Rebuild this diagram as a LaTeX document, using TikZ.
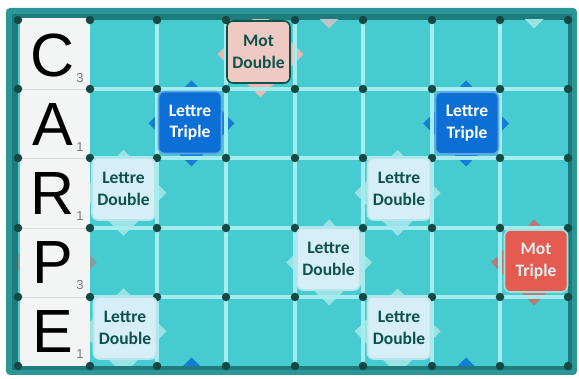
\documentclass[tikz,border=0pt]{standalone}
\usepackage{fontspec}
\setmainfont{Carlito}
\newfontfamily\tilefont{Liberation Sans}
\definecolor{boardedge}{HTML}{2C9596}
\definecolor{boarddark}{HTML}{1F7C7D}
\definecolor{cellfill}{HTML}{46CCD0}
\definecolor{gridlight}{HTML}{A4ECEE}
\definecolor{dotcol}{HTML}{134845}
\definecolor{tilewhite}{HTML}{F3F5F5}
\definecolor{tilegrey}{HTML}{DADDDD}
\definecolor{ltblue}{HTML}{0B6FD6}
\definecolor{ltborder}{HTML}{5FA6E6}
\definecolor{ldfill}{HTML}{D6EEF8}
\definecolor{ldborder}{HTML}{B5E4EA}
\definecolor{darktext}{HTML}{0D514C}
\definecolor{mdfill}{HTML}{EECAC3}
\definecolor{mtfill}{HTML}{E65B50}
\definecolor{mttext}{HTML}{DDF1F1}
\definecolor{mtborder}{HTML}{9EDFE0}
\definecolor{subgrey}{HTML}{7A7A7A}
\definecolor{decpink}{HTML}{E6B9B3}
\definecolor{decpinkfaint}{HTML}{B9C8C6}
\colorlet{decblue}{ltblue!85!cellfill}
\colorlet{decred}{mtfill!70!cellfill}
\colorlet{decredfaint}{mtfill!40!cellfill}
\colorlet{decwhite}{white!45!cellfill}
\tikzset{
  special/.style={rounded corners=6pt, minimum width=63pt, minimum height=62pt,
    inner sep=0pt, align=center, font=\bfseries\fontsize{17.5}{21.5}\selectfont, line width=1.6pt},
  ltbox/.style={special, fill=ltblue, draw=ltborder, text=white},
  ldbox/.style={special, fill=ldfill, draw=ldborder, text=darktext},
  mdbox/.style={special, fill=mdfill, draw=darktext, text=darktext},
  mtbox/.style={special, fill=mtfill, draw=mtborder, text=mttext},
  gdot/.style={circle, fill=dotcol, inner sep=0pt, minimum size=8.5pt},
  bigletter/.style={inner sep=0pt, anchor=base, font=\tilefont\fontsize{61}{61}\selectfont},
  subnum/.style={inner sep=0pt, anchor=base, text=subgrey, font=\tilefont\fontsize{13}{13}\selectfont},
}
\newcommand{\decor}[3]{% cx cy color
  \fill[#3] (#1-43,#2) -- (#1,#2-43) -- (#1+43,#2) -- (#1,#2+43) -- cycle;}
\begin{document}
\begin{tikzpicture}[x=1pt,y=-1pt]
\useasboundingbox (0,0) rectangle (579,379);
\fill[white] (0,0) rectangle (579,379);
% board frame
\fill[boardedge, rounded corners=4pt] (6,8) rectangle (577,375);
\fill[boarddark] (12,14) rectangle (572,370);
% cells
\fill[cellfill] (18,20) rectangle (568,366);
% decorations behind special squares
\begin{scope}
\clip (18,20) rectangle (568,366);
\decor{191.5}{123.5}{decblue}
\decor{466}{123.5}{decblue}
\decor{191.5}{400.5}{decblue}
\decor{466}{400.5}{decblue}
\decor{260.5}{54.5}{decpink}
\decor{329}{-14.5}{decpinkfaint}
\decor{534}{262.5}{decred}
\decor{54}{262.5}{decredfaint}
\decor{123.5}{193}{decwhite}
\decor{397.5}{193}{decwhite}
\decor{329}{262.5}{decwhite}
\decor{123.5}{331.5}{decwhite}
\decor{397.5}{331.5}{decwhite}
\decor{534}{-14.5}{decwhite}
\end{scope}
% grid lines
\foreach \x in {157,226,295,363,432,500}
  \draw[gridlight, line width=3.2pt] (\x,20) -- (\x,366);
\foreach \y in {89,158,228,297}
  \draw[gridlight, line width=3.2pt] (90,\y) -- (568,\y);
% letter column
\fill[tilewhite] (20,18) rectangle (90,366);
\foreach \y in {89,158,228,297}
  \draw[tilegrey, line width=0.8pt] (20,\y) -- (90,\y);
% dots
\foreach \x in {18,90,157,226,295,363,432,500,568}
  \foreach \y in {20,89,158,228,297,366}
    \node[gdot] at (\x,\y) {};
% letters
\node[bigletter] (lc) at (53,77) {C};
\node[subnum] (sc) at (80,83) {3};
\node[bigletter] (la) at (53,146) {A};
\node[subnum] (sa) at (80,152) {1};
\node[bigletter] (lr) at (53,215) {R};
\node[subnum] (sr) at (80,221) {1};
\node[bigletter] (lp) at (53,284) {P};
\node[subnum] (sp) at (80,290) {3};
\node[bigletter] (le) at (53,353) {E};
\node[subnum] (se) at (80,359) {1};
% special squares
\node[mdbox] (md) at (258.5,52) {Mot\\Double};
\node[ltbox] (lt1) at (190,122.5) {Lettre\\Triple};
\node[ltbox] (lt2) at (467,123) {Lettre\\Triple};
\node[ldbox] (ld1) at (123.5,189) {Lettre\\Double};
\node[ldbox] (ld2) at (399,189) {Lettre\\Double};
\node[ldbox] (ld3) at (328.5,259) {Lettre\\Double};
\node[mtbox] (mt) at (536,261) {Mot\\Triple};
\node[ldbox] (ld4) at (125,328) {Lettre\\Double};
\node[ldbox] (ld5) at (399,328) {Lettre\\Double};
\end{tikzpicture}
\end{document}
